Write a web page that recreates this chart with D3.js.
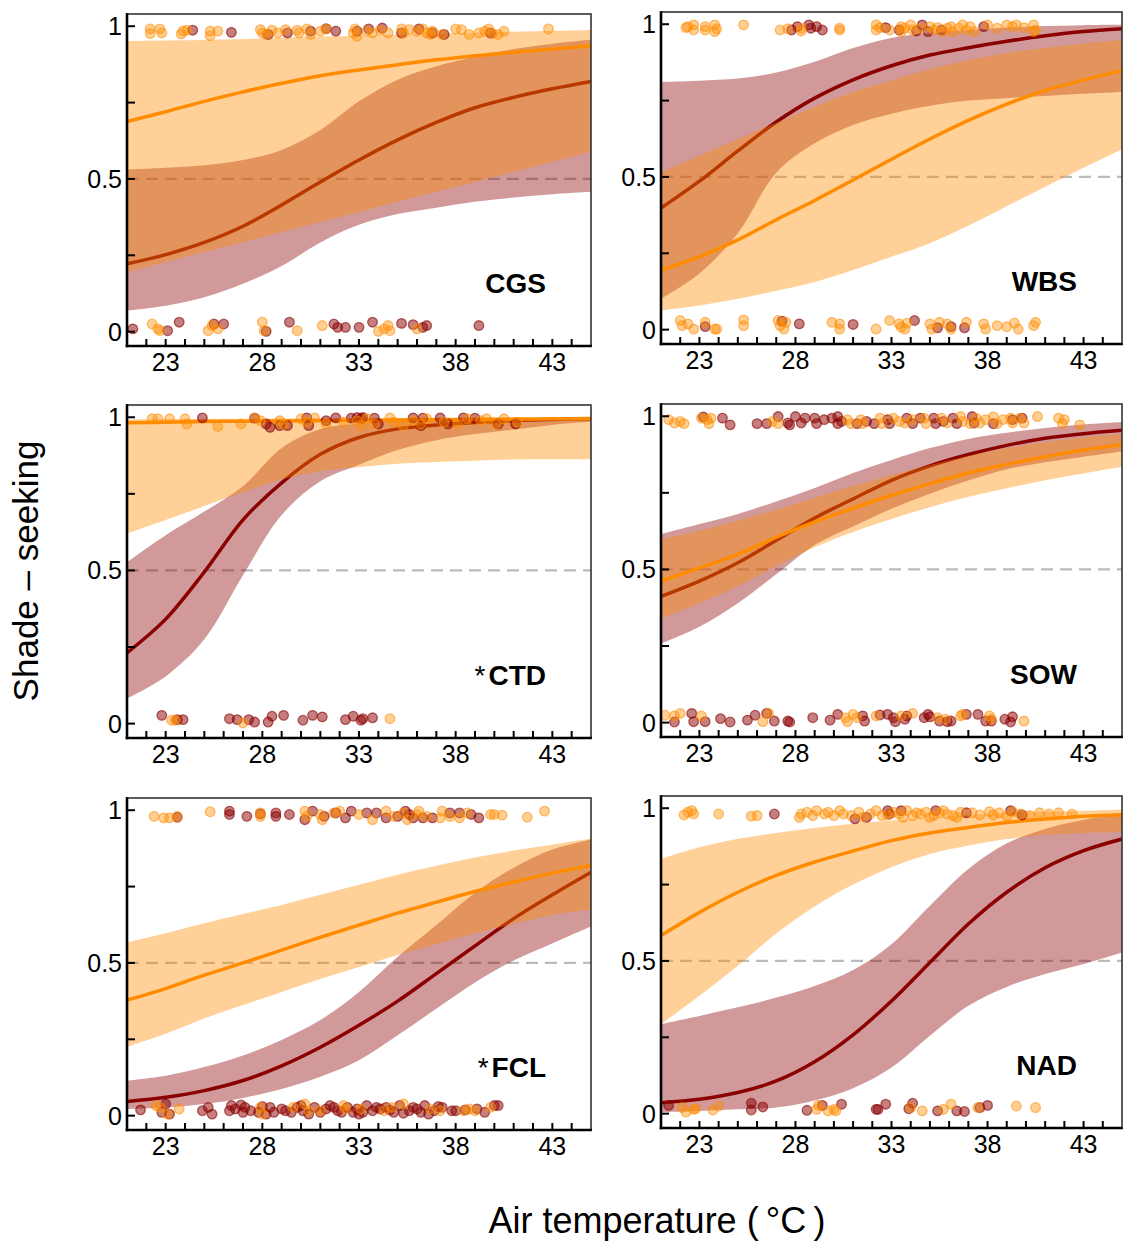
<!DOCTYPE html>
<html>
<head>
<meta charset="utf-8">
<script src="https://cdn.jsdelivr.net/npm/d3@7"></script>
<style>
  body { margin: 0; background: #fff; }
  svg { display: block; font-family: "Liberation Sans", Arial, sans-serif; }
</style>
</head>
<body>
<svg id="chart" width="1124" height="1242"></svg>
<script>
// ---- shared axes ----
const tempGrid = [21, 23, 25, 27, 29, 31, 33, 35, 37, 39, 41, 43, 45];
const xTickLabels = [23, 28, 33, 38, 43];
const xMinorTicks = d3.range(22, 45);
const yTickLabels = [0, 0.5, 1];
const yMinorTicks = [0, 0.25, 0.5, 0.75, 1];
const panelNames = ["CGS", "WBS", "CTD", "SOW", "FCL", "NAD"];
const panelStar = [false, false, true, false, true, false];

// ---- fitted probabilities and 95% bands on tempGrid ----
const cgsRedFit = [.222, .252, .292, .345, .415, .49, .562, .628, .685, .733, .767, .795, .819];
const cgsRedLo  = [.069, .085, .113, .157, .215, .292, .35, .385, .406, .425, .439, .45, .458];
const cgsRedHi  = [.531, .537, .545, .562, .595, .66, .754, .825, .869, .9, .925, .943, .956];
const cgsOrgFit = [.688, .72, .754, .785, .813, .838, .857, .874, .89, .903, .915, .925, .936];
const cgsOrgLo  = [.195, .228, .261, .293, .326, .359, .392, .425, .458, .49, .523, .556, .589];
const cgsOrgHi  = [.951, .953, .955, .958, .962, .966, .969, .972, .976, .979, .982, .985, .988];

const wbsRedFit = [.398, .486, .585, .68, .758, .818, .864, .899, .923, .944, .962, .976, .985];
const wbsRedLo  = [.101, .184, .316, .514, .61, .67, .707, .733, .75, .758, .765, .772, .778];
const wbsRedHi  = [.811, .815, .822, .842, .877, .922, .955, .972, .981, .989, .994, .997, .998];
const wbsOrgFit = [.195, .239, .294, .36, .423, .49, .558, .624, .685, .738, .783, .817, .849];
const wbsOrgLo  = [.063, .079, .101, .127, .156, .195, .239, .283, .34, .404, .468, .53, .591];
const wbsOrgHi  = [.514, .569, .624, .677, .73, .778, .816, .853, .882, .906, .922, .937, .948];

const ctdRedFit = [.231, .341, .495, .665, .786, .879, .934, .962, .975, .983, .989, .993, .995];
const ctdRedLo  = [.082, .154, .275, .484, .681, .791, .845, .893, .925, .945, .96, .975, .985];
const ctdRedHi  = [.527, .615, .692, .775, .9, .962, .98, .988, .992, .994, .995, .996, .997];
const ctdOrgFit = [.982, .984, .986, .987, .988, .989, .99, .991, .992, .993, .994, .995, .996];
const ctdOrgLo  = [.621, .665, .71, .755, .797, .824, .837, .848, .854, .858, .862, .863, .863];
const ctdOrgHi  = [.993, .994, .995, .995, .996, .996, .997, .997, .998, .998, .998, .999, .999];

const sowRedFit = [.412, .462, .522, .595, .668, .73, .791, .838, .875, .905, .928, .943, .954];
const sowRedLo  = [.258, .313, .39, .484, .58, .64, .698, .747, .79, .827, .85, .868, .885];
const sowRedHi  = [.615, .648, .681, .722, .766, .815, .857, .896, .926, .946, .962, .973, .981];
const sowOrgFit = [.462, .505, .549, .605, .655, .7, .742, .78, .815, .843, .868, .89, .907];
const sowOrgLo  = [.341, .39, .445, .511, .572, .622, .665, .703, .737, .765, .791, .813, .835];
const sowOrgHi  = [.599, .626, .659, .695, .734, .772, .808, .841, .871, .896, .915, .931, .942];

const fclRedFit = [.046, .06, .082, .115, .163, .224, .296, .375, .465, .556, .645, .723, .797];
const fclRedLo  = [.022, .027, .038, .058, .087, .127, .181, .263, .35, .436, .508, .564, .619];
const fclRedHi  = [.115, .131, .159, .197, .248, .313, .405, .52, .624, .73, .812, .871, .904];
const fclOrgFit = [.378, .416, .46, .5, .542, .584, .624, .663, .699, .734, .765, .794, .819];
const fclOrgLo  = [.225, .268, .318, .362, .405, .447, .487, .526, .562, .597, .628, .657, .674];
const fclOrgHi  = [.567, .597, .63, .66, .69, .723, .756, .789, .818, .845, .868, .887, .907];

const nadRedFit = [.036, .047, .069, .107, .17, .258, .369, .495, .621, .725, .805, .861, .899];
const nadRedLo  = [.005, .009, .014, .02, .043, .083, .151, .255, .353, .415, .457, .49, .528];
const nadRedHi  = [.293, .32, .348, .38, .418, .47, .555, .681, .801, .885, .932, .962, .981];
const nadOrgFit = [.583, .659, .725, .78, .824, .86, .894, .919, .937, .953, .965, .974, .979];
const nadOrgLo  = [.293, .386, .484, .59, .678, .75, .807, .85, .878, .899, .912, .919, .923];
const nadOrgHi  = [.834, .872, .9, .919, .935, .949, .96, .97, .978, .984, .989, .992, .996];

// ---- observations: [air temperature, jittered response] ----
const cgsOrgPts = [[22.2,.991],[22.2,.976],[22.7,.991],[22.8,.978],[23.8,.975],[23.9,.984],[24.1,.987],[25.3,.984],[25.3,.969],[25.7,.984],[27.9,.989],[28.0,.978],[28.2,.973],[28.5,.987],[28.8,.978],[29.2,.989],[29.8,.987],[29.9,.978],[30.3,.991],[30.5,.973],[31.0,.984],[31.3,.991],[32.7,.978],[32.8,.991],[32.9,.967],[33.4,.984],[33.7,.978],[34.1,.987],[34.5,.978],[35.2,.991],[35.3,.978],[35.6,.989],[36.0,.984],[36.3,.991],[36.5,.978],[36.7,.973],[36.8,.984],[37.3,.973],[38.0,.991],[38.3,.989],[38.7,.973],[39.2,.978],[39.5,.984],[39.7,.991],[39.9,.976],[40.2,.973],[40.5,.984],[42.8,.991],
  [22.3,.025],[22.6,.009],[22.7,.003],[25.2,.003],[25.4,.020],[25.7,.009],[28.0,.031],[28.1,.003],[29.8,.003],[31.1,.020],[34.0,.001],[34.3,.009],[34.5,.020],[34.6,.003],[36.0,.009]];
const cgsRedPts = [[24.4,.987],[26.4,.980],[28.3,.973],[29.3,.978],[30.5,.984],[31.3,.992],[31.8,.984],[32.9,.984],[33.5,.991],[34.2,.994],[35.2,.978],[36.1,.991],[36.8,.978],[37.4,.973],[39.8,.978],
  [21.3,.009],[23.1,.003],[23.7,.031],[25.5,.025],[26.0,.025],[28.2,.001],[29.4,.031],[31.7,.025],[31.9,.014],[32.3,.014],[33.0,.014],[33.7,.031],[35.2,.027],[35.8,.023],[36.3,.014],[36.5,.020],[39.2,.020]];

const wbsOrgPts = [[22.3,.989],[22.4,.992],[22.7,.998],[22.7,.981],[23.3,.992],[23.3,.981],[23.8,.998],[23.8,.976],[23.9,.985],[25.3,.998],[27.2,.981],[27.6,.985],[28.3,.987],[28.3,.978],[30.3,.981],[30.3,.987],[32.2,.998],[32.2,.981],[32.4,.989],[32.9,.981],[33.5,.992],[33.5,.976],[33.7,.987],[34.0,.998],[34.1,.981],[34.5,.987],[35.0,.992],[35.2,.981],[35.4,.989],[35.7,.976],[35.9,.987],[36.1,.992],[36.2,.976],[36.5,.987],[36.7,.998],[36.9,.981],[37.1,.992],[37.3,.976],[38.0,.998],[38.5,.987],[39.0,.998],[39.3,.992],[39.5,.998],[39.9,.989],[40.4,.998],[40.4,.976],[40.5,.981],
  [22.0,.030],[22.1,.013],[22.4,.019],[22.7,.002],[23.3,.024],[23.8,.002],[23.9,.002],[25.3,.032],[25.3,.013],[27.1,.030],[27.2,.013],[27.4,.002],[27.5,.024],[29.9,.024],[30.3,.019],[30.3,.002],[32.2,.002],[32.9,.030],[33.4,.019],[33.5,.008],[33.7,.002],[33.8,.021],[35.0,.019],[35.1,.002],[35.5,.024],[35.9,.019],[36.1,.002],[36.9,.024],[37.8,.019],[37.9,.002],[38.5,.013],[39.0,.010],[39.4,.021],[39.6,.002],[40.4,.013],[40.5,.024]];
const wbsRedPts = [[27.8,.981],[28.1,.992],[28.7,.998],[28.8,.987],[29.1,.992],[29.4,.981],[32.7,.989],[33.4,.981],[34.3,.978],[34.6,.998],[34.9,.976],[35.6,.981],[37.8,.992],
  [23.3,.010],[27.3,.028],[28.2,.019],[31.0,.017],[34.2,.030],[35.4,.006],[36.1,.010],[36.8,.006]];

const ctdOrgPts = [[22.3,.995],[22.6,.995],[23.2,.995],[24.0,.995],[24.1,.978],[25.7,.970],[26.9,.978],[27.6,.998],[27.9,.989],[28.9,.989],[29.1,.978],[30.0,.995],[30.3,.984],[30.7,.998],[31.3,.978],[32.2,.984],[32.9,.989],[33.1,.973],[33.4,.995],[33.8,.978],[34.6,.998],[34.8,.984],[35.3,.973],[35.8,.989],[36.2,.978],[36.5,.995],[37.4,.984],[38.1,.978],[38.6,.995],[39.3,.989],[39.6,.995],[40.1,.978],[40.5,.995],[41.2,.984],
  [23.3,.011],[23.5,.011],[27.0,.002],[34.6,.016]];
const ctdRedPts = [[24.9,.998],[27.6,.997],[28.2,.978],[28.4,.967],[28.9,.973],[29.3,.973],[30.3,.998],[30.4,.973],[31.3,.989],[31.8,.998],[32.6,.997],[32.9,.999],[33.1,.996],[33.2,.999],[33.8,.997],[34.0,.978],[35.8,.998],[36.2,.973],[36.3,.997],[37.2,.998],[37.6,.978],[38.4,.998],[39.0,.997],[40.2,.978],[41.1,.978],
  [22.8,.027],[23.6,.013],[23.9,.013],[26.3,.016],[26.7,.013],[27.3,.013],[27.6,.005],[28.3,.005],[28.5,.024],[29.1,.027],[30.1,.011],[30.6,.027],[31.1,.022],[32.3,.013],[32.7,.024],[33.1,.011],[33.2,.016],[33.7,.019]];

const sowOrgPts = [[21.4,.989],[21.7,.978],[22.0,.983],[22.2,.976],[23.1,.994],[23.4,.989],[23.5,.976],[23.6,.994],[26.8,.983],[27.1,.976],[30.7,.989],[30.9,.976],[31.4,.989],[31.5,.976],[32.4,.994],[32.5,.976],[33.1,.994],[33.4,.983],[33.7,.978],[34.1,.989],[34.7,.994],[34.8,.976],[35.6,.994],[35.9,.978],[36.6,.999],[36.7,.983],[37.1,.976],[37.4,.994],[37.6,.978],[37.9,.989],[38.3,.998],[38.5,.976],[38.8,.989],[39.2,.994],[39.3,.978],[39.7,.994],[39.9,.978],[40.6,.999],[41.7,.994],[41.9,.976],[42.0,.989],[42.8,.972],
  [21.2,.024],[21.7,.022],[22.0,.030],[23.1,.022],[26.3,.003],[26.6,.030],[30.6,.016],[30.7,.003],[31.0,.027],[31.2,.016],[32.2,.022],[33.5,.022],[34.1,.030],[35.4,.016],[35.8,.011],[36.6,.022],[36.7,.027],[38.1,.022],[38.2,.011],[39.9,.005]];
const sowRedPts = [[23.2,.998],[24.2,.994],[24.6,.972],[26.0,.976],[26.5,.976],[27.1,.999],[27.6,.978],[27.7,.972],[28.0,.999],[28.3,.978],[28.5,.994],[29.0,.994],[29.1,.976],[29.5,.989],[29.9,.994],[30.2,.999],[30.2,.976],[30.4,.983],[31.2,.976],[31.7,.983],[32.1,.976],[32.8,.989],[32.9,.976],[33.8,.994],[34.1,.976],[34.5,.994],[35.2,.994],[35.3,.976],[35.7,.983],[36.2,.994],[36.4,.976],[37.2,.999],[37.3,.978],[38.3,.976],[39.3,.989],[39.8,.994],
  [21.7,.002],[22.6,.030],[22.7,.003],[23.3,.003],[24.1,.013],[24.6,.002],[25.5,.008],[25.9,.024],[26.5,.030],[26.9,.005],[27.6,.005],[27.7,.002],[28.9,.016],[29.8,.008],[30.2,.027],[31.5,.022],[31.6,.005],[32.4,.025],[32.8,.027],[33.1,.016],[33.2,.003],[33.7,.011],[33.8,.022],[34.7,.016],[34.9,.027],[35.0,.019],[35.5,.005],[35.9,.003],[36.1,.005],[36.9,.027],[37.5,.027],[37.9,.005],[38.2,.005],[38.9,.011],[39.2,.002],[39.3,.019]];

const fclOrgPts = [[22.4,.980],[22.9,.975],[23.2,.975],[23.6,.980],[25.3,.995],[27.9,.980],[27.9,.991],[30.2,.997],[30.3,.980],[31.0,.986],[31.1,.969],[31.7,.991],[32.0,.997],[33.0,.986],[33.7,.969],[34.4,.997],[34.8,.980],[35.3,.991],[35.5,.969],[36.0,.986],[36.1,.997],[36.5,.980],[37.2,.975],[37.3,.997],[37.7,.980],[38.2,.975],[38.6,.991],[39.8,.986],[40.0,.986],[40.4,.984],[41.7,.977],[42.6,.997],
  [22.5,.033],[22.7,.027],[23.1,.005],[23.7,.022],[27.9,.027],[28.0,.005],[29.6,.027],[30.2,.038],[30.4,.016],[31.0,.016],[32.2,.033],[32.3,.022],[33.1,.022],[34.3,.016],[34.7,.027],[35.3,.038],[36.7,.022],[37.2,.016],[38.4,.016],[38.7,.022],[39.0,.016],[39.8,.027]];
const fclRedPts = [[23.6,.977],[26.3,.997],[26.3,.986],[27.2,.980],[27.9,.988],[28.7,.991],[28.7,.980],[29.4,.986],[30.2,.969],[30.6,.997],[31.2,.980],[31.8,.991],[32.3,.975],[32.6,.997],[33.4,.991],[33.9,.991],[34.4,.975],[35.0,.980],[35.4,.997],[35.6,.986],[35.8,.975],[36.3,.975],[36.8,.975],[37.7,.991],[38.2,.991],[38.8,.986],[39.2,.975],
  [21.7,.019],[23.0,.038],[22.8,.011],[23.2,.005],[24.9,.016],[25.2,.027],[25.4,.005],[26.3,.016],[26.4,.033],[26.9,.035],[27.1,.027],[27.4,.016],[27.8,.011],[28.2,.005],[28.4,.027],[28.6,.011],[29.0,.022],[29.5,.011],[30.0,.033],[30.1,.016],[30.7,.027],[31.0,.011],[31.3,.022],[31.5,.033],[31.9,.016],[32.4,.027],[32.7,.011],[33.2,.011],[33.4,.033],[33.7,.016],[34.1,.022],[34.4,.027],[34.8,.011],[35.1,.033],[35.6,.016],[35.8,.027],[36.2,.011],[36.4,.033],[36.9,.016],[37.3,.027],[37.8,.016],[38.0,.016],[39.5,.011],[40.0,.033],[40.2,.033],
  [26.6,.022],[27.0,.011],[28.0,.030],[29.2,.016],[29.8,.027],[30.4,.005],[31.7,.027],[32.1,.011],[32.9,.022],[33.0,.005],[33.9,.027],[34.6,.019],[35.3,.008],[36.0,.022],[36.6,.005],[37.1,.030],[38.5,.019],[39.1,.022]];

const nadOrgPts = [[22.2,.978],[22.4,.987],[22.6,.992],[22.7,.981],[24.0,.981],[25.7,.974],[26.0,.976],[28.2,.970],[28.3,.981],[28.6,.987],[28.9,.976],[29.1,.992],[29.5,.981],[29.7,.987],[30.0,.976],[30.3,.992],[30.5,.981],[30.9,.976],[31.3,.987],[31.5,.970],[31.9,.981],[32.2,.992],[32.5,.976],[33.1,.987],[33.4,.981],[33.8,.992],[34.1,.976],[34.5,.981],[34.8,.987],[35.2,.976],[35.5,.985],[35.9,.981],[36.2,.976],[36.6,.987],[38.1,.989],[38.3,.978],[38.6,.985],[39.0,.974],[39.3,.989],[39.7,.981],[40.2,.976],[40.7,.985],[41.2,.981],[41.7,.985],[42.4,.981],[32.8,.978],[33.6,.970],[34.3,.985],[35.0,.970],[35.7,.992],[36.4,.970],[37.2,.985],[37.6,.978],
  [22.1,.020],[22.3,.005],[22.7,.014],[22.8,.016],[23.7,.012],[24.0,.025],[29.1,.014],[29.2,.027],[29.7,.009],[30.0,.014],[30.1,.009],[34.0,.020],[34.6,.009],[35.7,.014],[36.1,.031],[37.5,.020],[39.5,.025],[40.5,.020]];
const nadRedPts = [[26.9,.981],[31.1,.965],[31.7,.970],[32.8,.992],[32.9,.981],[33.5,.992],[35.3,.992],[36.9,.985],[39.2,.992],[39.8,.978],
  [21.4,.027],[25.7,.034],[25.7,.012],[26.3,.022],[28.6,.011],[29.4,.027],[30.4,.031],[32.2,.014],[32.3,.014],[32.7,.031],[33.9,.016],[34.1,.034],[35.4,.009],[36.4,.009],[36.8,.007],[37.6,.020],[38.0,.027]];

// ---- panel table assembled from the arrays above ----
const panelData = [
  { red: [cgsRedFit, cgsRedLo, cgsRedHi, cgsRedPts], org: [cgsOrgFit, cgsOrgLo, cgsOrgHi, cgsOrgPts] },
  { red: [wbsRedFit, wbsRedLo, wbsRedHi, wbsRedPts], org: [wbsOrgFit, wbsOrgLo, wbsOrgHi, wbsOrgPts] },
  { red: [ctdRedFit, ctdRedLo, ctdRedHi, ctdRedPts], org: [ctdOrgFit, ctdOrgLo, ctdOrgHi, ctdOrgPts] },
  { red: [sowRedFit, sowRedLo, sowRedHi, sowRedPts], org: [sowOrgFit, sowOrgLo, sowOrgHi, sowOrgPts] },
  { red: [fclRedFit, fclRedLo, fclRedHi, fclRedPts], org: [fclOrgFit, fclOrgLo, fclOrgHi, fclOrgPts] },
  { red: [nadRedFit, nadRedLo, nadRedHi, nadRedPts], org: [nadOrgFit, nadOrgLo, nadOrgHi, nadOrgPts] }
];

// ---- layout ----
const frames = [
  { x0: 127, x1: 591, y0: 14, y1: 346 },
  { x0: 661, x1: 1122, y0: 12, y1: 344 },
  { x0: 127, x1: 591, y0: 405, y1: 738 },
  { x0: 661, x1: 1122, y0: 404, y1: 737 },
  { x0: 127, x1: 591, y0: 798, y1: 1130 },
  { x0: 661, x1: 1122, y0: 796, y1: 1128 }
];
const RED = "#8B0000", ORANGE = "#FF8C00";
const smooth = d3.curveCatmullRom.alpha(0.5);
const svg = d3.select("#chart");

panelNames.forEach((name, i) => {
  const f = frames[i];
  const d = panelData[i];
  const x = d3.scaleLinear().domain([21, 45]).range([f.x0, f.x1]);
  const y = d3.scaleLinear().domain([-0.047, 1.04]).range([f.y1, f.y0]);
  const g = svg.append("g");

  const clipId = "clip" + i;
  svg.append("clipPath").attr("id", clipId)
    .append("rect").attr("x", f.x0).attr("y", f.y0)
    .attr("width", f.x1 - f.x0).attr("height", f.y1 - f.y0);
  const plot = g.append("g").attr("clip-path", `url(#${clipId})`);

  // reference line at p = 0.5
  plot.append("line")
    .attr("x1", f.x0).attr("x2", f.x1)
    .attr("y1", y(0.5)).attr("y2", y(0.5))
    .attr("stroke", "#BBBBBB").attr("stroke-width", 2.2)
    .attr("stroke-dasharray", "12,7");

  const band = d3.area()
    .x((v, k) => x(tempGrid[k]))
    .y0(v => y(v[0])).y1(v => y(v[1]))
    .curve(smooth);
  const line = d3.line()
    .x((v, k) => x(tempGrid[k]))
    .y(v => y(v))
    .curve(smooth);

  const drawSeries = (s, col) => {
    const [fit, lo, hi] = s;
    plot.append("path")
      .attr("d", band(lo.map((v, k) => [v, hi[k]])))
      .attr("fill", col).attr("fill-opacity", 0.4);
    plot.append("path")
      .attr("d", line(fit))
      .attr("fill", "none").attr("stroke", col).attr("stroke-width", 3.5);
  };
  drawSeries(d.red, RED);
  drawSeries(d.org, ORANGE);

  const drawPts = (pts, col, fo, so) => {
    plot.append("g").selectAll("circle").data(pts).join("circle")
      .attr("cx", p => x(p[0])).attr("cy", p => y(p[1])).attr("r", 4.8)
      .attr("fill", col).attr("fill-opacity", fo)
      .attr("stroke", col).attr("stroke-opacity", so).attr("stroke-width", 1.3);
  };
  drawPts(d.red[3], RED, 0.5, 0.6);
  drawPts(d.org[3], ORANGE, 0.42, 0.55);

  // frame: thin box, heavier left / bottom axes
  g.append("rect").attr("x", f.x0).attr("y", f.y0)
    .attr("width", f.x1 - f.x0).attr("height", f.y1 - f.y0)
    .attr("fill", "none").attr("stroke", "#333").attr("stroke-width", 1.6);
  g.append("line").attr("x1", f.x0).attr("x2", f.x0).attr("y1", f.y0 - 0.8).attr("y2", f.y1 + 1.3)
    .attr("stroke", "#000").attr("stroke-width", 2.6);
  g.append("line").attr("x1", f.x0 - 1.3).attr("x2", f.x1 + 0.8).attr("y1", f.y1).attr("y2", f.y1)
    .attr("stroke", "#000").attr("stroke-width", 2.6);

  // inward ticks
  g.append("g").selectAll("line").data(xMinorTicks).join("line")
    .attr("x1", v => x(v)).attr("x2", v => x(v))
    .attr("y1", f.y1).attr("y2", f.y1 - 7)
    .attr("stroke", "#000").attr("stroke-width", 2);
  g.append("g").selectAll("line").data(yMinorTicks).join("line")
    .attr("x1", f.x0).attr("x2", f.x0 + 8)
    .attr("y1", v => y(v)).attr("y2", v => y(v))
    .attr("stroke", "#000").attr("stroke-width", 2);

  g.append("g").selectAll("text").data(xTickLabels).join("text")
    .attr("x", v => x(v)).attr("y", f.y1 + 25)
    .attr("text-anchor", "middle").attr("font-size", 25).attr("fill", "#000")
    .text(v => v);
  g.append("g").selectAll("text").data(yTickLabels).join("text")
    .attr("x", f.x0 - 5).attr("y", v => y(v)).attr("dy", "0.36em")
    .attr("text-anchor", "end").attr("font-size", 25).attr("fill", "#000")
    .text(v => d3.format("")(v));

  // species code
  const lab = g.append("text")
    .attr("x", f.x1 - 45).attr("y", y(0.125))
    .attr("text-anchor", "end").attr("font-size", 28).attr("fill", "#000");
  if (panelStar[i]) lab.append("tspan").text("*");
  lab.append("tspan").attr("font-weight", "bold").attr("dx", panelStar[i] ? 3 : 0).text(name);
});

// axis titles
svg.append("text")
  .attr("transform", "translate(38,571) rotate(-90)")
  .attr("text-anchor", "middle").attr("font-size", 35).attr("fill", "#000")
  .text("Shade \u2013 seeking");
svg.append("text")
  .attr("x", 657).attr("y", 1233)
  .attr("text-anchor", "middle").attr("font-size", 36).attr("fill", "#000")
  .text("Air temperature (\u2009\u00B0C\u2009)");
</script>
</body>
</html>
